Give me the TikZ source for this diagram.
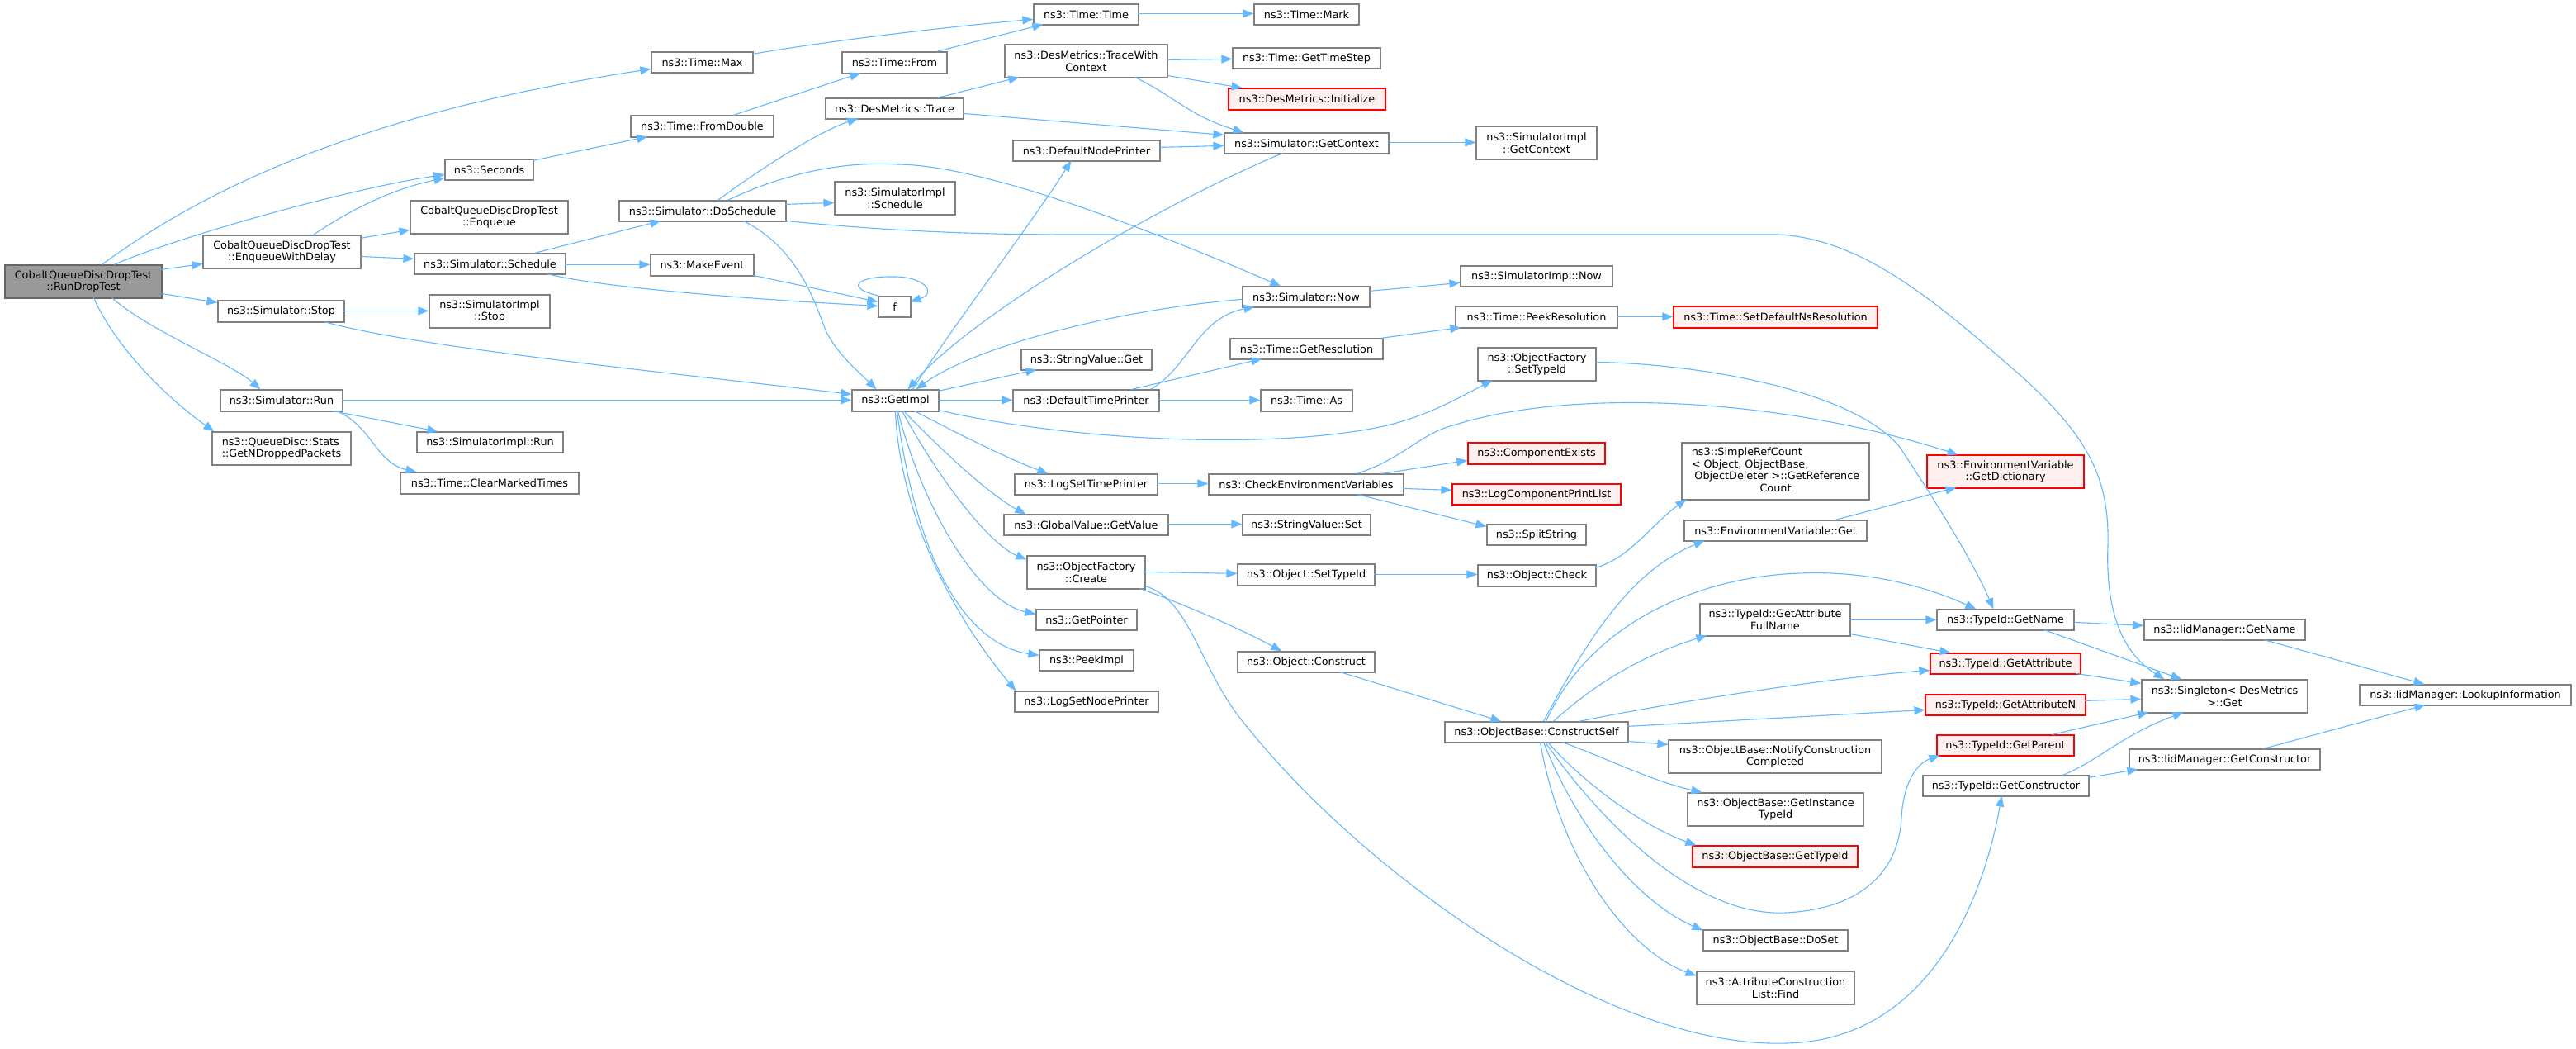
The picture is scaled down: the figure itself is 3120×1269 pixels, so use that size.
\documentclass[tikz,border=0pt]{standalone}
\usepackage{fontspec}
\setmainfont{DejaVu Sans}
\usetikzlibrary{arrows.meta,calc}
\definecolor{edgec}{HTML}{63B8FF}
\definecolor{bordc}{HTML}{808080}
\definecolor{redb}{HTML}{FF0000}
\definecolor{redf}{HTML}{FFF0F0}
\definecolor{mainf}{HTML}{999999}
\tikzset{
  box/.style={draw=bordc, line width=0.6pt, fill=white, inner sep=0pt, align=center,
    font=\fontsize{6.4}{7.4}\selectfont, text=black},
  redbox/.style={draw=redb, fill=redf},
  mainbox/.style={fill=mainf, draw={rgb,255:red,102;green,102;blue,102}},
  ca/.style={draw=edgec, line width=0.55pt, -{Triangle[length=6.5pt,width=5pt]}}
}
\newcommand\nd[7][]{\node[box,#1,minimum width={(#5-#3)*0.5pt},minimum height={(#6-#4)*0.5pt}] (#2) at ({(#3+#5)/2},{(#4+#6)/2}) {#7};}
\begin{document}
\begin{tikzpicture}[x=0.5pt,y=-0.5pt]
\useasboundingbox (0,0) rectangle (3120,1269);
\fill[white] (0,0) rectangle (3120,1269);
% nodes
\nd[mainbox]{RDT}{6}{321}{196}{361}{CobaltQueueDiscDropTest\\::RunDropTest}
\nd{EWD}{246}{285}{437}{325}{CobaltQueueDiscDropTest\\::EnqueueWithDelay}
\nd{Enq}{497}{243}{688}{283}{CobaltQueueDiscDropTest\\::Enqueue}
\nd{Sec}{539}{193}{646}{218}{ns3::Seconds}
\nd{Sch}{502}{307}{685}{332}{ns3::Simulator::Schedule}
\nd{SSt}{264}{364}{417}{390}{ns3::Simulator::Stop}
\nd{ISt}{520}{357}{666}{397}{ns3::SimulatorImpl\\::Stop}
\nd{SRn}{267}{472}{415}{498}{ns3::Simulator::Run}
\nd[align=left]{GND}{257}{523}{425}{563}{ns3::QueueDisc::Stats\\::GetNDroppedPackets}
\nd{IRn}{505}{523}{682}{548}{ns3::SimulatorImpl::Run}
\nd{CMT}{485}{572}{701}{598}{ns3::Time::ClearMarkedTimes}
\nd{TMax}{789}{63}{912}{88}{ns3::Time::Max}
\nd{FD}{764}{140}{937}{166}{ns3::Time::FromDouble}
\nd{DoS}{750}{243}{952}{268}{ns3::Simulator::DoSchedule}
\nd{ME}{788}{308}{913}{334}{ns3::MakeEvent}
\nd{TT}{1252}{5}{1379}{30}{ns3::Time::Time}
\nd{TF}{1020}{63}{1147}{89}{ns3::Time::From}
\nd{TWC}{1217}{54}{1414}{94}{ns3::DesMetrics::TraceWith\\Context}
\nd{Tr}{1000}{119}{1167}{144}{ns3::DesMetrics::Trace}
\nd{DNP}{1227}{170}{1405}{195}{ns3::DefaultNodePrinter}
\nd{ISc}{1011}{220}{1157}{260}{ns3::SimulatorImpl\\::Schedule}
\nd{f}{1064}{359}{1103}{384}{f}
\nd{GC}{1483}{161}{1682}{186}{ns3::Simulator::GetContext}
\nd{TMk}{1519}{5}{1646}{30}{ns3::Time::Mark}
\nd{GTS}{1493}{58}{1672}{83}{ns3::Time::GetTimeStep}
\nd[redbox]{Ini}{1488}{107}{1678}{133}{ns3::DesMetrics::Initialize}
\nd{IGCt}{1788}{153}{1934}{193}{ns3::SimulatorImpl\\::GetContext}
\nd{SNw}{1505}{347}{1659}{372}{ns3::Simulator::Now}
\nd{INw}{1769}{322}{1953}{347}{ns3::SimulatorImpl::Now}
\nd{PR}{1763}{371}{1959}{397}{ns3::Time::PeekResolution}
\nd[redbox]{SDN}{2027}{371}{2274}{397}{ns3::Time::SetDefaultNsResolution}
\nd{GR}{1490}{410}{1675}{435}{ns3::Time::GetResolution}
\nd{OFS}{1790}{421}{1933}{461}{ns3::ObjectFactory\\::SetTypeId}
\nd{GI}{1032}{472}{1137}{498}{ns3::GetImpl}
\nd{SVG}{1237}{423}{1395}{448}{ns3::StringValue::Get}
\nd{DTP}{1227}{472}{1404}{498}{ns3::DefaultTimePrinter}
\nd{TAs}{1527}{472}{1638}{498}{ns3::Time::As}
\nd{LST}{1229}{574}{1402}{599}{ns3::LogSetTimePrinter}
\nd{CEV}{1464}{574}{1700}{599}{ns3::CheckEnvironmentVariables}
\nd{GGV}{1216}{623}{1415}{648}{ns3::GlobalValue::GetValue}
\nd{SVS}{1505}{623}{1660}{648}{ns3::StringValue::Set}
\nd{OFC}{1244}{673}{1387}{713}{ns3::ObjectFactory\\::Create}
\nd{OST}{1499}{683}{1665}{709}{ns3::Object::SetTypeId}
\nd{GPt}{1255}{738}{1377}{763}{ns3::GetPointer}
\nd{PIm}{1259}{787}{1373}{812}{ns3::PeekImpl}
\nd{OCo}{1499}{789}{1665}{814}{ns3::Object::Construct}
\nd{LSN}{1229}{837}{1403}{862}{ns3::LogSetNodePrinter}
\nd[redbox]{CEx}{1778}{536}{1944}{562}{ns3::ComponentExists}
\nd[redbox]{LCP}{1759}{586}{1963}{611}{ns3::LogComponentPrintList}
\nd{SpS}{1801}{635}{1921}{660}{ns3::SplitString}
\nd{OCk}{1790}{684}{1933}{710}{ns3::Object::Check}
\nd{SRC}{2037}{536}{2264}{605}{\begin{tabular}{@{}l@{}}ns3::SimpleRefCount\\< Object, ObjectBase,\\\hspace{1.8pt}ObjectDeleter >::GetReference\\\multicolumn{1}{@{}c@{}}{Count}\end{tabular}}
\nd{EVG}{2040}{630}{2261}{655}{ns3::EnvironmentVariable::Get}
\nd[redbox]{GDi}{2334}{551}{2524}{591}{ns3::EnvironmentVariable\\::GetDictionary}
\nd{GAF}{2059}{731}{2241}{770}{ns3::TypeId::GetAttribute\\FullName}
\nd{TGN}{2346}{738}{2512}{763}{ns3::TypeId::GetName}
\nd[redbox]{GAt}{2338}{791}{2520}{816}{ns3::TypeId::GetAttribute}
\nd{IMGN}{2597}{750}{2792}{775}{ns3::IidManager::GetName}
\nd{Sgl}{2594}{823}{2795}{863}{ns3::Singleton< DesMetrics\\>::Get}
\nd{LkI}{2858}{829}{3114}{854}{ns3::IidManager::LookupInformation}
\nd[redbox]{GAN}{2332}{841}{2526}{866}{ns3::TypeId::GetAttributeN}
\nd[redbox]{GPa}{2346}{890}{2512}{915}{ns3::TypeId::GetParent}
\nd{TGC}{2329}{939}{2530}{964}{ns3::TypeId::GetConstructor}
\nd{IMGC}{2579}{907}{2810}{932}{ns3::IidManager::GetConstructor}
\nd{CS}{1750}{874}{1972}{899}{ns3::ObjectBase::ConstructSelf}
\nd{NCC}{2021}{896}{2279}{936}{ns3::ObjectBase::NotifyConstruction\\Completed}
\nd{GIT}{2044}{960}{2257}{1000}{ns3::ObjectBase::GetInstance\\TypeId}
\nd[redbox]{GTI}{2050}{1024}{2250}{1050}{ns3::ObjectBase::GetTypeId}
\nd{DSt}{2063}{1126}{2238}{1151}{ns3::ObjectBase::DoSet}
\nd{ACF}{2055}{1176}{2246}{1216}{ns3::AttributeConstruction\\List::Find}
% edges
\draw[ca] ($(RDT.north west)+(118,0)$) .. controls (298,192) and (520,125) .. ($(TMax.north west)+(0,21)$);
\draw[ca] ($(RDT.north west)+(133,0)$) .. controls (219,285) and (430,227) .. ($(Sec.north west)+(0,19)$);
\draw[ca] ($(RDT.north west)+(190,6)$) -- ($(EWD.north west)+(0,35)$);
\draw[ca] ($(RDT.north west)+(190,35)$) -- ($(SSt.north west)+(0,3)$);
\draw[ca] ($(RDT.north west)+(130,40)$) .. controls (180,400) and (280,440) .. ($(SRn.north west)+(49,0)$);
\draw[ca] ($(RDT.north west)+(108,40)$) .. controls (140,420) and (200,480) .. ($(GND.north west)+(3,0)$);
\draw[ca] ($(EWD.north west)+(134,0)$) .. controls (430,250) and (480,228) .. ($(Sec.north west)+(0,23)$);
\draw[ca] ($(EWD.north west)+(191,4)$) -- ($(Enq.north west)+(0,36)$);
\draw[ca] ($(EWD.north west)+(191,26)$) -- ($(Sch.north west)+(0,7)$);
\draw[ca] ($(Sec.north west)+(107,2)$) -- ($(FD.north west)+(21,26)$);
\draw[ca] ($(FD.north west)+(125,0)$) -- ($(TF.north west)+(23,26)$);
\draw[ca] ($(TMax.north west)+(123,3)$) .. controls (1000,50) and (1150,32) .. ($(TT.north west)+(0,19)$);
\draw[ca] ($(TF.north west)+(115,0)$) -- ($(TT.north west)+(12,25)$);
\draw[ca] ($(TT.north west)+(127,12)$) -- ($(TMk.north west)+(0,12)$);
\draw[ca] ($(Tr.north west)+(136,0)$) -- ($(TWC.north west)+(18,40)$);
\draw[ca] ($(Tr.north west)+(167,19)$) -- ($(GC.north west)+(0,3)$);
\draw[ca] ($(TWC.north west)+(197,19)$) -- ($(GTS.north west)+(0,14)$);
\draw[ca] ($(TWC.north west)+(197,38)$) -- ($(Ini.north west)+(17,0)$);
\draw[ca] ($(TWC.north west)+(158,40)$) .. controls (1420,115) and (1440,140) .. ($(GC.north west)+(24,0)$);
\draw[ca] ($(DNP.north west)+(178,9)$) -- ($(GC.north west)+(0,16)$);
\draw[ca] ($(GC.north west)+(199,12)$) -- ($(IGCt.north west)+(0,20)$);
\draw[ca] ($(GC.north west)+(71,25)$) .. controls (1400,250) and (1180,380) .. ($(GI.north west)+(68,0)$);
\draw[ca] ($(GI.north west)+(74,0)$) .. controls (1150,400) and (1250,270) .. ($(DNP.north west)+(71,25)$);
\draw[ca] ($(SNw.north west)+(0,16)$) .. controls (1350,375) and (1180,420) .. ($(GI.north west)+(78,0)$);
\draw[ca] ($(DTP.north west)+(167,0)$) .. controls (1440,445) and (1450,385) .. ($(SNw.north west)+(15,25)$);
\draw[ca] ($(DTP.north west)+(144,0)$) -- ($(GR.north west)+(39,25)$);
\draw[ca] ($(DTP.north west)+(177,13)$) -- ($(TAs.north west)+(0,13)$);
\draw[ca] ($(GI.north west)+(105,13)$) -- ($(DTP.north west)+(0,13)$);
\draw[ca] ($(GI.north west)+(105,2)$) -- ($(SVG.north west)+(19,25)$);
\draw[ca] ($(GI.north west)+(105,25)$) .. controls (1300,535) and (1550,545) .. (1680,515) .. controls (1730,503) and (1770,480) .. ($(OFS.north west)+(18,40)$);
\draw[ca] ($(GI.north west)+(76,26)$) .. controls (1160,525) and (1220,555) .. ($(LST.north west)+(41,0)$);
\draw[ca] ($(GI.north west)+(63,26)$) .. controls (1140,545) and (1200,600) .. ($(GGV.north west)+(27,0)$);
\draw[ca] ($(GI.north west)+(61,26)$) .. controls (1140,585) and (1200,660) .. ($(OFC.north west)+(0,5)$);
\draw[ca] ($(GI.north west)+(56,26)$) .. controls (1120,625) and (1190,730) .. ($(GPt.north west)+(0,6)$);
\draw[ca] ($(GI.north west)+(55,26)$) .. controls (1110,680) and (1170,780) .. ($(PIm.north west)+(0,7)$);
\draw[ca] ($(GI.north west)+(53,26)$) .. controls (1090,620) and (1150,740) .. ($(LSN.north west)+(2,0)$);
\draw[ca] ($(SSt.north west)+(129,26)$) .. controls (500,420) and (800,450) .. ($(GI.north west)+(0,6)$);
\draw[ca] ($(SRn.north west)+(148,13)$) -- ($(GI.north west)+(0,13)$);
\draw[ca] ($(SSt.north west)+(153,13)$) -- ($(ISt.north west)+(0,20)$);
\draw[ca] ($(SRn.north west)+(136,26)$) -- ($(IRn.north west)+(26,0)$);
\draw[ca] ($(SRn.north west)+(141,26)$) .. controls (450,515) and (455,560) .. ($(CMT.north west)+(20,0)$);
\draw[ca] ($(Sch.north west)+(146,0)$) -- ($(DoS.north west)+(51,25)$);
\draw[ca] ($(Sch.north west)+(183,14)$) -- ($(ME.north west)+(0,13)$);
\draw[ca] ($(Sch.north west)+(161,25)$) .. controls (720,347) and (900,362) .. ($(f.north west)+(0,12)$);
\draw[ca] ($(ME.north west)+(125,26)$) -- ($(f.north west)+(0,7)$);
\draw[ca] ($(f.north west)+(2,0)$) .. controls (1020,348) and (1040,334) .. (1083,335) .. controls (1120,335) and (1135,355) .. ($(f.north west)+(39,7)$);
\draw[ca] ($(DoS.north west)+(120,0)$) .. controls (920,205) and (990,160) .. ($(Tr.north west)+(40,25)$);
\draw[ca] ($(DoS.north west)+(132,0)$) .. controls (950,210) and (1020,195) .. (1087,199) .. controls (1200,200) and (1420,290) .. ($(SNw.north west)+(47,0)$);
\draw[ca] ($(DoS.north west)+(202,5)$) -- ($(ISc.north west)+(0,26)$);
\draw[ca] ($(DoS.north west)+(202,25)$) .. controls (1050,277) and (1150,284) .. (1300,284) -- (2155,284) .. controls (2260,290) and (2350,370) .. (2450,457) .. controls (2530,530) and (2555,580) .. (2553,660) .. controls (2550,740) and (2570,790) .. ($(Sgl.north west)+(28,0)$);
\draw[ca] ($(DoS.north west)+(151,25)$) .. controls (965,300) and (985,360) .. (1000,400) .. controls (1015,430) and (1040,450) .. ($(GI.north west)+(30,0)$);
\draw[ca] ($(LST.north west)+(173,12)$) -- ($(CEV.north west)+(0,12)$);
\draw[ca] ($(GGV.north west)+(199,12)$) -- ($(SVS.north west)+(0,12)$);
\draw[ca] ($(OFC.north west)+(143,20)$) -- ($(OST.north west)+(0,12)$);
\draw[ca] ($(OFC.north west)+(137,40)$) .. controls (1430,730) and (1500,760) .. ($(OCo.north west)+(54,0)$);
\draw[ca] ($(OFC.north west)+(143,37)$) .. controls (1440,725) and (1450,800) .. (1500,867) .. controls (1650,1060) and (1950,1270) .. (2163,1263) .. controls (2330,1260) and (2400,1100) .. ($(TGC.north west)+(96,25)$);
\draw[ca] ($(OST.north west)+(166,13)$) -- ($(OCk.north west)+(0,12)$);
\draw[ca] ($(OCk.north west)+(143,4)$) .. controls (1975,675) and (2000,635) .. ($(SRC.north west)+(6,69)$);
\draw[ca] ($(OCo.north west)+(124,25)$) -- ($(CS.north west)+(69,0)$);
\draw[ca] ($(CEV.north west)+(210,0)$) -- ($(CEx.north west)+(0,22)$);
\draw[ca] ($(CEV.north west)+(236,18)$) -- ($(LCP.north west)+(0,8)$);
\draw[ca] ($(CEV.north west)+(180,25)$) -- ($(SpS.north west)+(0,3)$);
\draw[ca] ($(CEV.north west)+(180,0)$) .. controls (1700,555) and (1720,525) .. (1760,515) .. controls (1900,470) and (2150,480) .. ($(GDi.north west)+(38,0)$);
\draw[ca] ($(OFS.north west)+(143,18)$) .. controls (2050,440) and (2240,470) .. (2300,540) .. controls (2340,600) and (2390,680) .. ($(TGN.north west)+(69,0)$);
\draw[ca] ($(EVG.north west)+(183,0)$) .. controls (2280,615) and (2330,600) .. ($(GDi.north west)+(36,40)$);
\draw[ca] ($(CS.north west)+(120,0)$) .. controls (1930,760) and (1980,690) .. ($(EVG.north west)+(25,25)$);
\draw[ca] ($(CS.north west)+(123,0)$) .. controls (1950,700) and (2200,650) .. ($(TGN.north west)+(48,0)$);
\draw[ca] ($(CS.north west)+(132,0)$) .. controls (1940,820) and (2000,790) .. ($(GAF.north west)+(9,39)$);
\draw[ca] ($(CS.north west)+(163,0)$) .. controls (2000,855) and (2200,822) .. ($(GAt.north west)+(0,21)$);
\draw[ca] ($(CS.north west)+(222,6)$) -- ($(GAN.north west)+(0,19)$);
\draw[ca] ($(CS.north west)+(222,24)$) -- ($(NCC.north west)+(0,6)$);
\draw[ca] ($(CS.north west)+(143,25)$) .. controls (1950,920) and (2000,945) .. ($(GIT.north west)+(18,0)$);
\draw[ca] ($(CS.north west)+(125,25)$) .. controls (1920,950) and (1990,1000) .. ($(GTI.north west)+(5,0)$);
\draw[ca] ($(CS.north west)+(122,25)$) .. controls (1950,1010) and (2060,1110) .. (2163,1105) .. controls (2260,1100) and (2300,1050) .. (2303,990) .. controls (2305,950) and (2320,925) .. ($(GPa.north west)+(4,25)$);
\draw[ca] ($(CS.north west)+(120,25)$) .. controls (1910,1000) and (1980,1090) .. ($(DSt.north west)+(0,1)$);
\draw[ca] ($(CS.north west)+(116,25)$) .. controls (1890,1040) and (1970,1150) .. ($(ACF.north west)+(0,6)$);
\draw[ca] ($(GAF.north west)+(182,20)$) -- ($(TGN.north west)+(0,13)$);
\draw[ca] ($(GAF.north west)+(182,37)$) -- ($(GAt.north west)+(25,0)$);
\draw[ca] ($(TGN.north west)+(166,16)$) -- ($(IMGN.north west)+(0,8)$);
\draw[ca] ($(TGN.north west)+(130,25)$) -- ($(Sgl.north west)+(49,0)$);
\draw[ca] ($(GAt.north west)+(177,25)$) -- ($(Sgl.north west)+(0,5)$);
\draw[ca] ($(GAN.north west)+(194,8)$) -- ($(Sgl.north west)+(0,24)$);
\draw[ca] ($(GPa.north west)+(140,0)$) -- ($(Sgl.north west)+(9,40)$);
\draw[ca] ($(TGC.north west)+(170,0)$) .. controls (2540,922) and (2570,890) .. ($(Sgl.north west)+(51,40)$);
\draw[ca] ($(TGC.north west)+(201,3)$) -- ($(IMGC.north west)+(11,25)$);
\draw[ca] ($(IMGC.north west)+(163,0)$) -- ($(LkI.north west)+(80,25)$);
\draw[ca] ($(IMGN.north west)+(145,25)$) -- ($(LkI.north west)+(79,0)$);
\draw[ca] ($(PR.north west)+(196,13)$) -- ($(SDN.north west)+(0,13)$);
\draw[ca] ($(GR.north west)+(183,0)$) -- ($(PR.north west)+(7,26)$);
\draw[ca] ($(SNw.north west)+(154,6)$) -- ($(INw.north west)+(0,21)$);
\end{tikzpicture}
\end{document}
